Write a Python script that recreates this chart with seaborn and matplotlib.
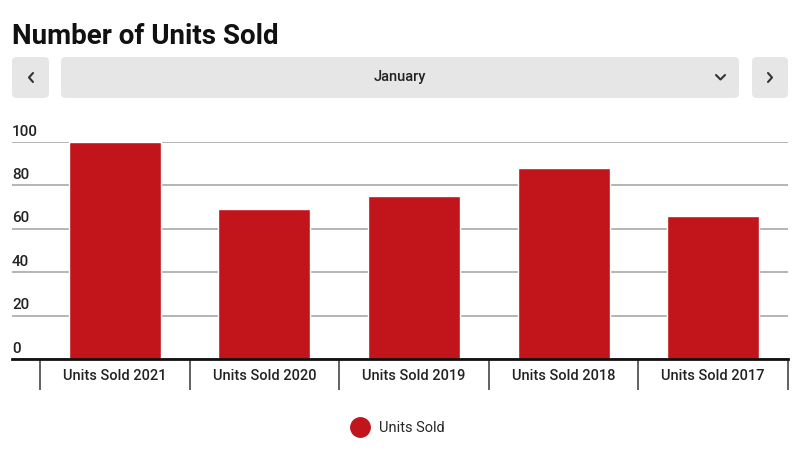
import matplotlib
matplotlib.use("Agg")
import matplotlib.pyplot as plt
import matplotlib.transforms as mtransforms
from matplotlib.patches import FancyBboxPatch
from matplotlib.lines import Line2D
import seaborn as sns

# data
categories = ["Units Sold 2021", "Units Sold 2020", "Units Sold 2019", "Units Sold 2018", "Units Sold 2017"]
units_sold = [100, 69, 75, 88, 66]
y_ticks = [0, 20, 40, 60, 80, 100]
month = "January"
title = "Number of Units Sold"
series_name = "Units Sold"

bar_color = "#c1151b"
W, H = 800, 450

sns.set_theme(style="white")
plt.rcParams["font.family"] = ["Roboto", "DejaVu Sans"]

fig = plt.figure(figsize=(8, 4.5), dpi=100)
# axes placed in pixel terms: x 12..788, y 142 (=100) .. 359 (=0)
ax = fig.add_axes([12 / W, 1 - 359 / H, 776 / W, 217 / H])

sns.barplot(x=categories, y=units_sold, color=bar_color, saturation=1,
            width=0.615, ax=ax, zorder=3)

ax.set_xlim(-0.5 - 28 / 149.6, 4.5)
ax.set_ylim(0, 100)
for p in ax.patches:
    p.set_clip_on(False)

# gridlines with labels sitting above them
ax.set_yticks(y_ticks)
ax.set_yticklabels([])
ax.tick_params(axis="y", length=0)
ax.grid(axis="y", color="#a0a0a0", lw=1.1, zorder=1)
trans = mtransforms.blended_transform_factory(ax.transAxes, ax.transData)
for t in y_ticks:
    ax.text(0, t + 1.6, str(t), transform=trans, ha="left", va="bottom",
            fontsize=11, color="#222222", fontweight="medium")

# x axis: category labels with divider ticks
for s in ["top", "right", "left"]:
    ax.spines[s].set_visible(False)
ax.spines["bottom"].set_color("#111111")
ax.spines["bottom"].set_linewidth(2)
ax.spines["bottom"].set_zorder(4)
ax.set_xticks(range(len(categories)))
ax.set_xticklabels(categories, fontsize=10.5, color="#222222", fontweight="medium")
ax.tick_params(axis="x", which="major", length=0, pad=7)
ax.set_xticks([i - 0.5 for i in range(len(categories) + 1)], minor=True)
ax.tick_params(axis="x", which="minor", bottom=True, length=22, width=1.3,
               color="#555555", direction="out")
ax.set_xlabel("")
ax.set_ylabel("")

# title
fig.text(12 / W, 1 - 36 / H, title, fontsize=20, fontweight="bold",
         ha="left", va="center", color="#111111")

# month selector controls
def box(x0, x1, y0, y1):
    fig.patches.append(FancyBboxPatch((x0 / W, 1 - y1 / H), (x1 - x0) / W, (y1 - y0) / H,
                                      boxstyle="round,pad=0,rounding_size=0.006",
                                      transform=fig.transFigure, facecolor="#e6e6e6",
                                      edgecolor="none", mutation_aspect=W / H))

box(12, 49, 57, 98)
box(61, 739, 57, 98)
box(752, 788, 57, 98)

def chevron(pts):
    xs = [p[0] / W for p in pts]
    ys = [1 - p[1] / H for p in pts]
    fig.lines.append(Line2D(xs, ys, transform=fig.transFigure, color="#333333",
                            lw=1.5, solid_capstyle="round", solid_joinstyle="round"))

chevron([(33, 73), (29, 77.5), (33, 82)])
chevron([(768, 73), (772, 77.5), (768, 82)])
chevron([(716, 75), (720.5, 79.5), (725, 75)])
fig.text(400 / W, 1 - 77.5 / H, month, fontsize=10.5, ha="center", va="center",
         color="#222222", fontweight="medium")

# legend
handle = Line2D([], [], marker="o", linestyle="none", markersize=14,
                markerfacecolor=bar_color, markeredgecolor=bar_color)
fig.legend([handle], [series_name], loc="center", bbox_to_anchor=(395 / W, 1 - 428 / H),
           frameon=False, fontsize=10.5, handletextpad=0.3)

fig.savefig("out.png", dpi=100)
